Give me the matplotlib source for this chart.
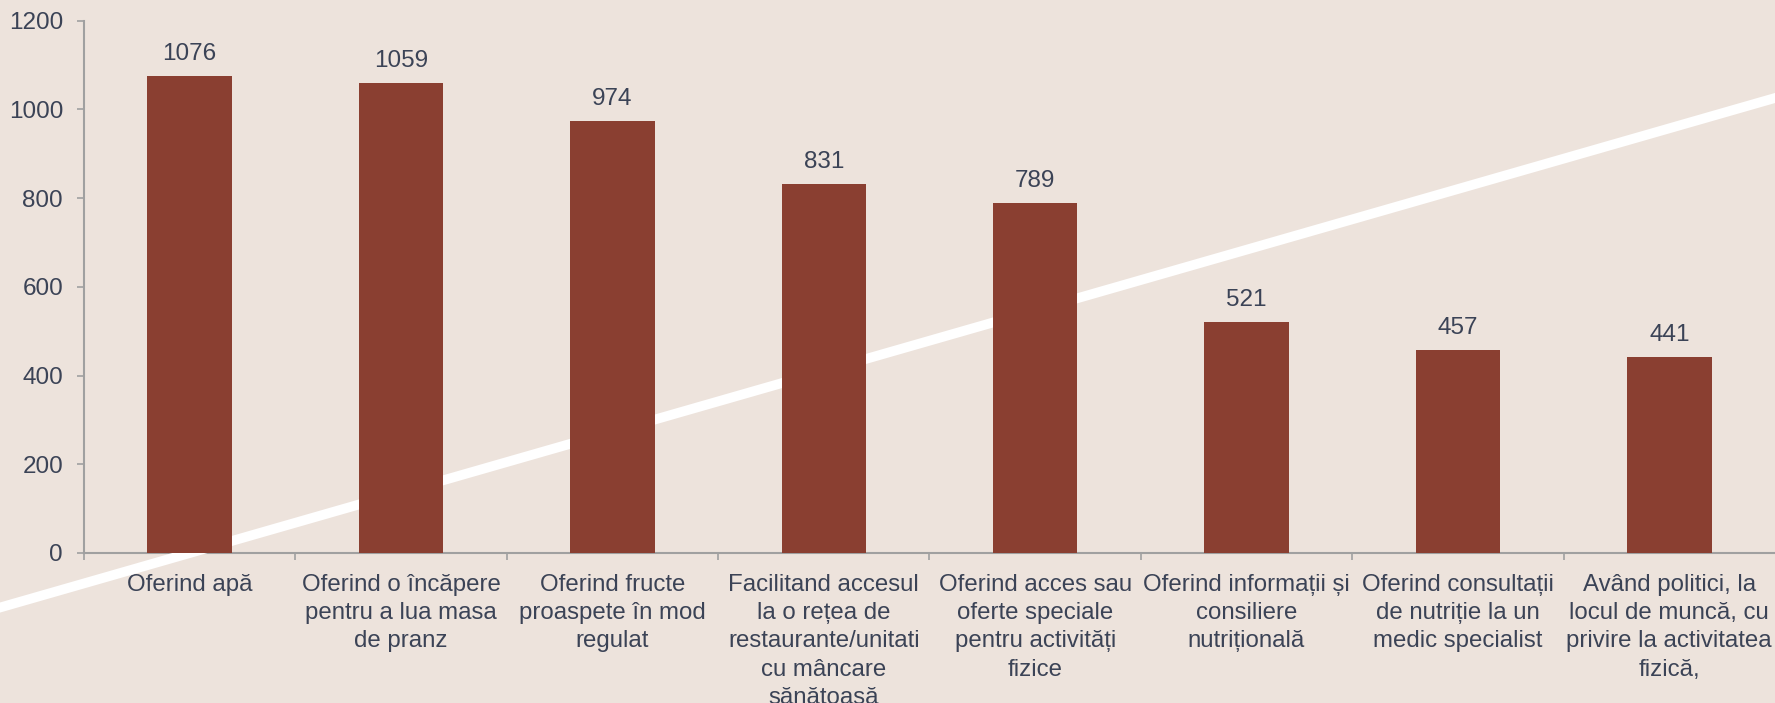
import matplotlib.pyplot as plt
from matplotlib.lines import Line2D

categories = [
    "Oferind apă",
    "Oferind o încăpere\npentru a lua masa\nde pranz",
    "Oferind fructe\nproaspete în mod\nregulat",
    "Facilitand accesul\nla o rețea de\nrestaurante/unitati\ncu mâncare\nsănătoasă",
    "Oferind acces sau\noferte speciale\npentru activități\nfizice",
    "Oferind informații și\nconsiliere\nnutrițională",
    "Oferind consultații\nde nutriție la un\nmedic specialist",
    "Având politici, la\nlocul de muncă, cu\nprivire la activitatea\nfizică,",
]
values = [1076, 1059, 974, 831, 789, 521, 457, 441]

bg = "#ede3dc"
bar_color = "#8a3f31"
text_color = "#3b4356"
axis_color = "#a0a0a0"

plt.rcParams['font.family'] = ['Liberation Sans', 'DejaVu Sans']

fig = plt.figure(figsize=(17.75, 7.03), dpi=100, facecolor=bg)
ax = fig.add_axes([0.0473, 0.2134, 0.9527, 0.7572])
ax.set_facecolor(bg)

x = range(len(values))
bars = ax.bar(x, values, width=0.4, color=bar_color, zorder=3)
for xi, v in zip(x, values):
    ax.annotate(str(v), (xi, v), xytext=(0, 8), textcoords="offset points",
                ha="center", va="bottom", fontsize=17.5, color=text_color)

# decorative white stripe from the slide background:
# above the spine, below the tick labels and the bars
ax.spines["bottom"].set_zorder(2.0)
ax.spines["left"].set_zorder(2.0)
ax.add_line(Line2D([0, 1], [0.1358, 0.8606], transform=fig.transFigure,
                   color="white", lw=7, clip_on=False, zorder=2.2))

ax.set_xlim(-0.5, len(values) - 0.5)
ax.set_ylim(0, 1200)
ax.set_yticks(range(0, 1201, 200))
ax.set_xticks([i - 0.5 for i in range(len(values))], minor=False)
ax.set_xticklabels([])
ax.set_xticks(list(x), minor=True)
ax.set_xticklabels(categories, minor=True, fontsize=17.3, color=text_color,
                   linespacing=1.37)
ax.tick_params(axis="x", which="minor", length=0, pad=15)
ax.tick_params(axis="x", which="major", length=5, color=axis_color, width=1.2)
ax.tick_params(axis="y", length=5, color=axis_color, width=1.2, pad=10,
               labelsize=17.5, labelcolor=text_color)

for s in ["top", "right"]:
    ax.spines[s].set_visible(False)
for s in ["left", "bottom"]:
    ax.spines[s].set_color(axis_color)
    ax.spines[s].set_linewidth(1.5)

fig.savefig("out.png", dpi=100, facecolor=bg)
